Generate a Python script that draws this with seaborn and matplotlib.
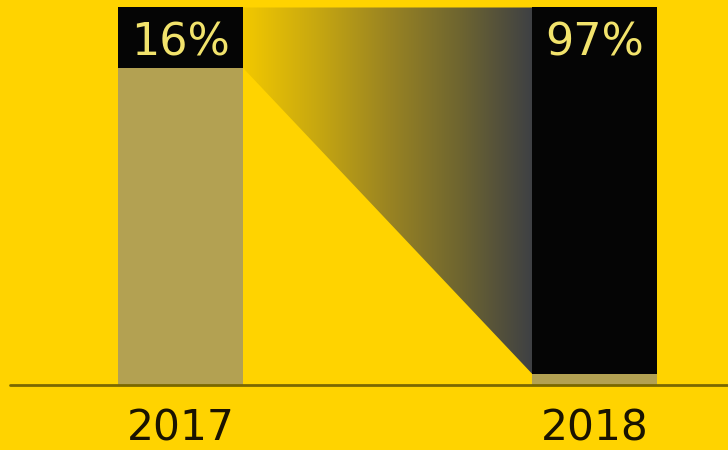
import matplotlib
matplotlib.use("Agg")
import matplotlib.pyplot as plt
import seaborn as sns
import numpy as np
import pandas as pd
from matplotlib.colors import LinearSegmentedColormap
from matplotlib.patches import Polygon

years = ["2017", "2018"]
values = [16, 97]
value_labels = ["16%", "97%"]

BG = "#FFD300"
TAN = "#B3A152"
BLACK = "#050505"
LABEL_YELLOW = "#F2E36C"

sns.set_theme(style="white")
plt.rcParams["font.family"] = ["DejaVu Sans"]

fig = plt.figure(figsize=(7.28, 4.50), dpi=100, facecolor=BG)
ax = fig.add_axes([0, 65 / 450, 1, 385 / 450])
ax.set_facecolor(BG)

df = pd.DataFrame({"year": years, "value": values,
                   "total": [100] * len(years),
                   "rest": [100 - v for v in values]})

bw = 125 / 414
sns.barplot(data=df, x="year", y="total", color=BLACK, width=bw,
            saturation=1, ax=ax, linewidth=0)
sns.barplot(data=df, x="year", y="rest", color=TAN, width=bw,
            saturation=1, ax=ax, linewidth=0)

XLIM = (-180.5 / 414, 1 + (728 - 594.5) / 414)
YLIM = (0, 100 + 7.5 / 3.78)

patches = ax.patches[:len(years)]
x0r = patches[0].get_x() + patches[0].get_width()
x1l = patches[1].get_x()
y_top = 100
y_left = 100 - values[0]
y_right = 100 - values[1]

poly = Polygon([(x0r, y_top), (x1l, y_top), (x1l, y_right), (x0r, y_left)],
               closed=True, facecolor="none", edgecolor="none")
ax.add_patch(poly)
cmap = LinearSegmentedColormap.from_list(
    "grad", ["#F2C800", "#C8A810", "#9A8422", "#6E6530", "#3E4044"])
grad = np.linspace(0, 1, 256).reshape(1, -1)
im = ax.imshow(grad, cmap=cmap, aspect="auto",
               extent=[x0r, x1l, y_right, y_top], zorder=1.5,
               interpolation="bilinear")
im.set_clip_path(poly)
ax.set_xlim(*XLIM)
ax.set_ylim(*YLIM)

for i, (p, lab) in enumerate(zip(patches, value_labels)):
    cx = p.get_x() + p.get_width() / 2
    ax.text(cx, 100 - 9.4, lab, ha="center", va="center",
            color=LABEL_YELLOW, fontsize=32,
            family=["Liberation Sans Narrow", "DejaVu Sans Condensed", "DejaVu Sans"],
            zorder=5)

ax.axhline(0, xmin=10 / 728, xmax=1, color="#7A6800", lw=2, clip_on=False, zorder=6)

for s in ax.spines.values():
    s.set_visible(False)
ax.set_yticks([])
ax.set_xlabel("")
ax.set_ylabel("")
ax.tick_params(axis="x", length=0, pad=16, labelsize=30.5, labelcolor="#1A1300")

fig.savefig("out.png", dpi=100, facecolor=BG)
